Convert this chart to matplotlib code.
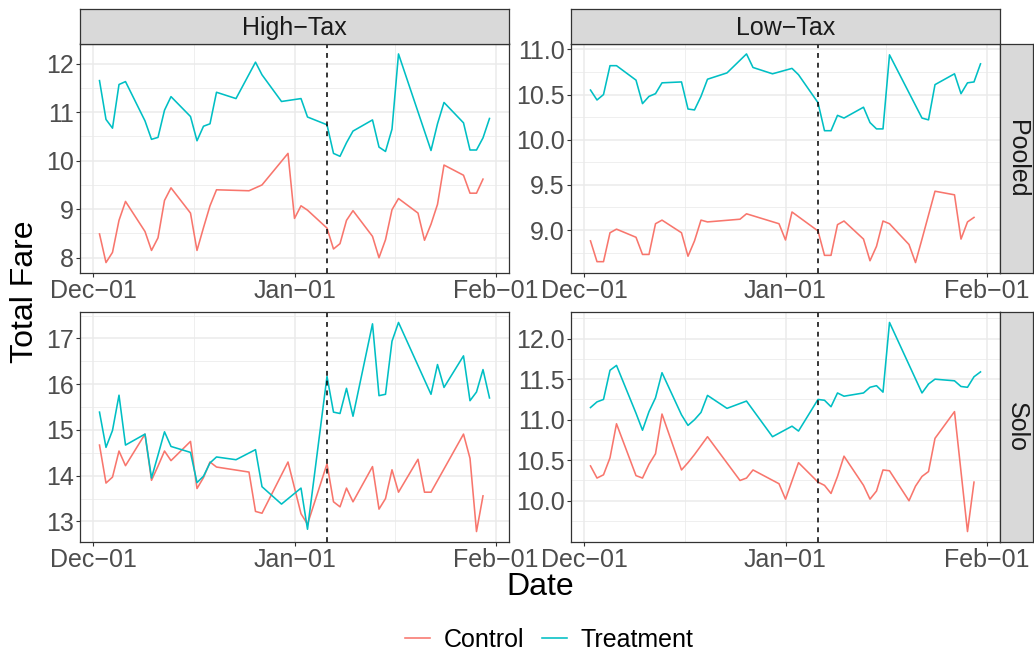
import datetime as dt

import matplotlib
matplotlib.use("Agg")
import matplotlib.pyplot as plt
import matplotlib.dates as mdates
from matplotlib.lines import Line2D
from matplotlib.ticker import FixedLocator, FormatStrFormatter, FuncFormatter

plt.rcParams['font.family'] = ['Liberation Sans', 'DejaVu Sans']

# ---------------------------------------------------------------- data
# dates as "MM-DD" (December of year 1, January of year 2)
ht_pooled_treat_dates = ["12-02", "12-03", "12-04", "12-05", "12-06", "12-09", "12-10", "12-11", "12-12",
                         "12-13", "12-16", "12-17", "12-18", "12-19", "12-20", "12-23", "12-26", "12-27",
                         "12-30", "01-02", "01-03", "01-06", "01-07", "01-08", "01-09", "01-10", "01-13",
                         "01-14", "01-15", "01-16", "01-17", "01-22", "01-23", "01-24", "01-27", "01-28",
                         "01-29", "01-30", "01-31"]
ht_pooled_treat = [11.65, 10.85, 10.67, 11.57, 11.63, 10.82, 10.44, 10.48, 11.04, 11.32, 10.91, 10.41, 10.71,
                   10.76, 11.41, 11.28, 12.03, 11.77, 11.22, 11.28, 10.90, 10.74, 10.15, 10.09, 10.37, 10.61,
                   10.84, 10.28, 10.19, 10.65, 12.20, 10.21, 10.76, 11.20, 10.78, 10.22, 10.22, 10.47, 10.87]

ht_pooled_ctrl_dates = ["12-02", "12-03", "12-04", "12-05", "12-06", "12-09", "12-10", "12-11", "12-12",
                        "12-13", "12-16", "12-17", "12-18", "12-19", "12-20", "12-25", "12-27", "12-31",
                        "01-01", "01-02", "01-03", "01-06", "01-07", "01-08", "01-09", "01-10", "01-13",
                        "01-14", "01-15", "01-16", "01-17", "01-20", "01-21", "01-22", "01-23", "01-24",
                        "01-27", "01-28", "01-29", "01-30"]
ht_pooled_ctrl = [8.49, 7.90, 8.11, 8.77, 9.16, 8.54, 8.15, 8.41, 9.18, 9.44, 8.92, 8.15, 8.62, 9.07, 9.40,
                  9.38, 9.50, 10.15, 8.81, 9.07, 8.98, 8.61, 8.18, 8.29, 8.77, 8.97, 8.44, 8.00, 8.37, 8.99,
                  9.22, 8.92, 8.36, 8.69, 9.10, 9.91, 9.70, 9.33, 9.33, 9.62]

lt_pooled_treat_dates = ht_pooled_treat_dates
lt_pooled_treat = [10.55, 10.44, 10.50, 10.82, 10.82, 10.66, 10.40, 10.48, 10.51, 10.63, 10.64, 10.34, 10.33,
                   10.48, 10.67, 10.74, 10.95, 10.80, 10.73, 10.79, 10.72, 10.41, 10.10, 10.10, 10.27, 10.24,
                   10.36, 10.19, 10.12, 10.12, 10.94, 10.24, 10.22, 10.61, 10.73, 10.51, 10.63, 10.64, 10.84]

lt_pooled_ctrl_dates = ["12-02", "12-03", "12-04", "12-05", "12-06", "12-09", "12-10", "12-11", "12-12",
                        "12-13", "12-16", "12-17", "12-18", "12-19", "12-20", "12-25", "12-26", "12-31",
                        "01-01", "01-02", "01-06", "01-07", "01-08", "01-09", "01-10", "01-13", "01-14",
                        "01-15", "01-16", "01-17", "01-20", "01-21", "01-22", "01-24", "01-27", "01-28",
                        "01-29", "01-30"]
lt_pooled_ctrl = [8.88, 8.65, 8.65, 8.97, 9.01, 8.92, 8.73, 8.73, 9.07, 9.11, 8.97, 8.71, 8.88, 9.11, 9.09,
                  9.12, 9.18, 9.07, 8.89, 9.20, 8.99, 8.72, 8.72, 9.06, 9.10, 8.90, 8.66, 8.82, 9.10, 9.07,
                  8.84, 8.64, 8.90, 9.43, 9.39, 8.90, 9.09, 9.14]

ht_solo_treat_dates = ht_pooled_treat_dates
ht_solo_treat = [15.39, 14.62, 14.99, 15.76, 14.67, 14.91, 13.95, 14.45, 14.96, 14.64, 14.51, 13.85, 13.99,
                 14.28, 14.41, 14.35, 14.57, 13.76, 13.38, 13.73, 12.83, 16.17, 15.39, 15.36, 15.91, 15.30,
                 17.32, 15.75, 15.78, 16.94, 17.35, 15.78, 16.43, 15.93, 16.62, 15.64, 15.83, 16.32, 15.70]

ht_solo_ctrl_dates = ["12-02", "12-03", "12-04", "12-05", "12-06", "12-09", "12-10", "12-11", "12-12",
                      "12-13", "12-16", "12-17", "12-18", "12-19", "12-20", "12-25", "12-26", "12-27",
                      "12-31", "01-02", "01-03", "01-06", "01-07", "01-08", "01-09", "01-10", "01-13",
                      "01-14", "01-15", "01-16", "01-17", "01-20", "01-21", "01-22", "01-27", "01-28",
                      "01-29", "01-30"]
ht_solo_ctrl = [14.67, 13.84, 13.97, 14.54, 14.22, 14.91, 13.90, 14.21, 14.54, 14.33, 14.75, 13.72, 13.96,
                14.30, 14.19, 14.08, 13.22, 13.18, 14.30, 13.17, 12.94, 14.26, 13.43, 13.32, 13.73, 13.43,
                14.20, 13.27, 13.50, 14.13, 13.64, 14.36, 13.64, 13.64, 14.91, 14.38, 12.78, 13.56]

lt_solo_treat_dates = ["12-02", "12-03", "12-04", "12-05", "12-06", "12-09", "12-10", "12-11", "12-12",
                       "12-13", "12-16", "12-17", "12-18", "12-19", "12-20", "12-23", "12-26", "12-30",
                       "01-02", "01-03", "01-06", "01-07", "01-08", "01-09", "01-10", "01-13", "01-14",
                       "01-15", "01-16", "01-17", "01-22", "01-23", "01-24", "01-27", "01-28", "01-29",
                       "01-30", "01-31"]
lt_solo_treat = [11.15, 11.22, 11.25, 11.61, 11.67, 11.08, 10.87, 11.10, 11.27, 11.58, 11.06, 10.93, 11.00,
                 11.09, 11.30, 11.14, 11.23, 10.79, 10.92, 10.86, 11.25, 11.24, 11.16, 11.33, 11.29, 11.33,
                 11.40, 11.42, 11.34, 12.20, 11.33, 11.44, 11.50, 11.48, 11.41, 11.40, 11.53, 11.59]

lt_solo_ctrl_dates = ["12-02", "12-03", "12-04", "12-05", "12-06", "12-09", "12-10", "12-11", "12-12",
                      "12-13", "12-16", "12-17", "12-18", "12-19", "12-20", "12-25", "12-26", "12-27",
                      "12-31", "01-01", "01-03", "01-06", "01-07", "01-08", "01-09", "01-10", "01-13",
                      "01-14", "01-15", "01-16", "01-17", "01-20", "01-21", "01-22", "01-23", "01-24",
                      "01-27", "01-29", "01-30"]
lt_solo_ctrl = [10.43, 10.28, 10.32, 10.53, 10.95, 10.31, 10.28, 10.45, 10.58, 11.07, 10.38, 10.47, 10.57,
                10.68, 10.79, 10.25, 10.28, 10.38, 10.21, 10.02, 10.47, 10.23, 10.19, 10.09, 10.30, 10.55,
                10.19, 10.02, 10.12, 10.38, 10.37, 10.00, 10.18, 10.30, 10.36, 10.77, 11.10, 9.62, 10.23]

groups = ["Control", "Treatment"]
tax_levels = ["High\u2212Tax", "Low\u2212Tax"]
ride_types = ["Pooled", "Solo"]
policy_date = "01-06"

y_breaks = {
    (0, 0): [8, 9, 10, 11, 12],
    (0, 1): [9.0, 9.5, 10.0, 10.5, 11.0],
    (1, 0): [13, 14, 15, 16, 17],
    (1, 1): [10.0, 10.5, 11.0, 11.5, 12.0],
}
y_formats = {(0, 0): "%d", (0, 1): "%.1f", (1, 0): "%d", (1, 1): "%.1f"}

panels = {
    (0, 0): ((ht_pooled_ctrl_dates, ht_pooled_ctrl), (ht_pooled_treat_dates, ht_pooled_treat)),
    (0, 1): ((lt_pooled_ctrl_dates, lt_pooled_ctrl), (lt_pooled_treat_dates, lt_pooled_treat)),
    (1, 0): ((ht_solo_ctrl_dates, ht_solo_ctrl), (ht_solo_treat_dates, ht_solo_treat)),
    (1, 1): ((lt_solo_ctrl_dates, lt_solo_ctrl), (lt_solo_treat_dates, lt_solo_treat)),
}


def to_date(s):
    m, d = (int(v) for v in s.split("-"))
    return dt.date(2019 if m == 12 else 2020, m, d)


# ---------------------------------------------------------------- style
COLORS = {"Control": "#F8766D", "Treatment": "#00BFC4"}
GRID_MAJOR = "#EBEBEB"
BORDER = "#333333"
TICK_TXT = "#4D4D4D"
STRIP_BG = "#D9D9D9"
TICK_FS = 18
TITLE_FS = 23

W, H = 1034, 653
fig = plt.figure(figsize=(W / 100, H / 100), dpi=100)


def px_axes(left, top, right, bottom):
    return fig.add_axes([left / W, 1 - bottom / H, (right - left) / W, (bottom - top) / H])


col_x = [(80, 509), (571, 1000)]
row_y = [(43.5, 273), (312, 542)]
strip_top = 9.5
strip_right = 1033

x_major = [dt.date(2019, 12, 1), dt.date(2020, 1, 1), dt.date(2020, 2, 1)]
x_major_num = [mdates.date2num(d) for d in x_major]
x_minor_num = [(x_major_num[i] + x_major_num[i + 1]) / 2 for i in range(2)]

for (r, c), series in panels.items():
    l, rr = col_x[c]
    t, b = row_y[r]
    ax = px_axes(l, t, rr, b)
    ax.set_facecolor("white")

    all_x, all_y = [], []
    for name, (dates, vals) in zip(groups, series):
        xs = [mdates.date2num(to_date(s)) for s in dates]
        ax.plot(xs, vals, color=COLORS[name], lw=1.15, solid_joinstyle="round", zorder=3)
        all_x += xs
        all_y += vals

    ax.axvline(mdates.date2num(to_date(policy_date)), color="black", lw=1.1,
               dashes=(3.2, 3.2), zorder=4)

    # ggplot-style 5% expansion of the data range
    x0, x1 = min(all_x), max(all_x)
    dx = (x1 - x0) * 0.05
    ax.set_xlim(x0 - dx, x1 + dx)
    y0, y1 = min(all_y), max(all_y)
    dy = (y1 - y0) * 0.05
    ax.set_ylim(y0 - dy, y1 + dy)

    # minor gridlines halfway between breaks (and half a step beyond, when inside)
    yb = y_breaks[(r, c)]
    step = yb[1] - yb[0]
    lo, hi = ax.get_ylim()
    cand = [yb[0] - step / 2] + [m + step / 2 for m in yb]
    y_minor = [v for v in cand if lo <= v <= hi]

    ax.xaxis.set_major_locator(FixedLocator(x_major_num))
    ax.xaxis.set_minor_locator(FixedLocator(x_minor_num))
    ax.xaxis.set_major_formatter(
        FuncFormatter(lambda x, pos: mdates.num2date(x).strftime("%b\u2212%d")))
    ax.yaxis.set_major_locator(FixedLocator(yb))
    ax.yaxis.set_minor_locator(FixedLocator(y_minor))
    ax.yaxis.set_major_formatter(FormatStrFormatter(y_formats[(r, c)]))

    ax.grid(which="major", color=GRID_MAJOR, lw=1.1, zorder=0)
    ax.grid(which="minor", color=GRID_MAJOR, lw=0.55, zorder=0)
    ax.set_axisbelow(True)

    ax.tick_params(which="major", length=2.6, width=0.8, color=BORDER,
                   labelcolor=TICK_TXT, labelsize=TICK_FS, pad=2)
    ax.tick_params(which="minor", length=0)
    for sp in ax.spines.values():
        sp.set_color(BORDER)
        sp.set_linewidth(0.9)
        sp.set_zorder(5)

    # column strips on top row
    if r == 0:
        sax = px_axes(l, strip_top, rr, t)
        sax.set_facecolor(STRIP_BG)
        sax.set_xticks([])
        sax.set_yticks([])
        for sp in sax.spines.values():
            sp.set_color(BORDER)
            sp.set_linewidth(0.9)
        sax.text(0.5, 0.47, tax_levels[c], ha="center", va="center", fontsize=TICK_FS,
                 color="#1A1A1A", transform=sax.transAxes)
    # row strips on right column
    if c == 1:
        sax = px_axes(rr, t, strip_right, b)
        sax.set_facecolor(STRIP_BG)
        sax.set_xticks([])
        sax.set_yticks([])
        for sp in sax.spines.values():
            sp.set_color(BORDER)
            sp.set_linewidth(0.9)
        sax.text(0.5, 0.5, ride_types[r], ha="center", va="center", fontsize=TICK_FS,
                 color="#1A1A1A", rotation=-90, transform=sax.transAxes)

fig.text(25 / W, 1 - 292 / H, "Total Fare", rotation=90, ha="center", va="center",
         fontsize=TITLE_FS, color="black")
fig.text(540 / W, 1 - 587 / H, "Date", ha="center", va="center",
         fontsize=TITLE_FS, color="black")

handles = [Line2D([0], [0], color=COLORS[g], lw=1.15) for g in groups]
fig.legend(handles, groups, loc="center", bbox_to_anchor=(549 / W, 1 - 640 / H), ncol=2,
           frameon=False, fontsize=TICK_FS, handlelength=1.0, handletextpad=0.55,
           columnspacing=0.7)

fig.savefig("out.png", dpi=100, facecolor="white")
